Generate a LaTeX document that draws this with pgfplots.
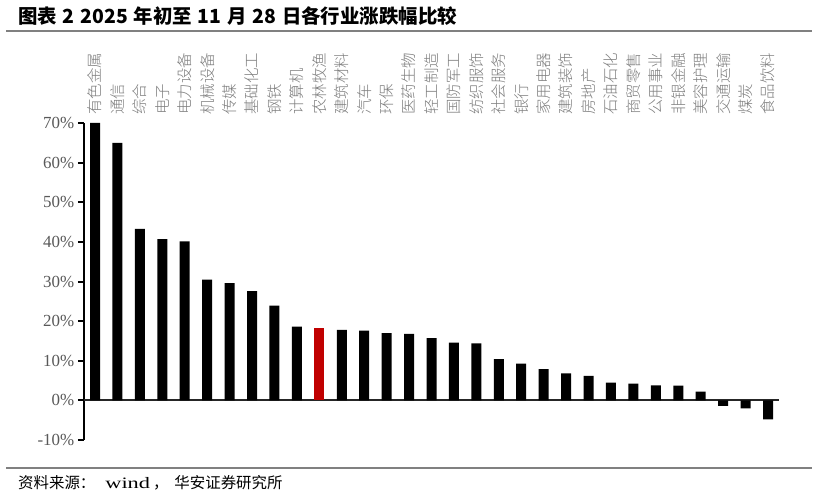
\documentclass[border=0pt]{standalone}
\usepackage{fontspec}
\usepackage{pgfplots}
\pgfplotsset{compat=1.18}
\setmainfont{Liberation Serif}
\newfontfamily\cjk{Noto Sans CJK SC}
\newfontfamily\cjklight{Noto Sans CJK SC Light}
\definecolor{tickgray}{RGB}{89,89,89}
\definecolor{labgray}{RGB}{125,125,125}
\definecolor{rulegray}{RGB}{128,128,128}
\definecolor{barred}{RGB}{192,0,0}
\begin{document}
\begin{tikzpicture}[x=1bp,y=1bp]
\useasboundingbox (0,0) rectangle (819,-499);
\fill[white] (0,0) rectangle (819,-499);
\node[anchor=west, inner sep=0] at (18,-16) {\cjk\bfseries\fontsize{19.5}{19.5}\selectfont 图表\hspace{0.3em}2\hspace{0.3em}2025\hspace{0.3em}年初至\hspace{0.3em}11\hspace{0.3em}月\hspace{0.3em}28\hspace{0.3em}日各行业涨跌幅比较};
\draw[rulegray, line width=2bp] (6,-31) -- (812,-31);
\draw[rulegray, line width=2bp] (6,-468) -- (812,-468);
\node[anchor=west, inner sep=0] at (18,-483) {\cjk\fontsize{15.5}{15.5}\selectfont 资料来源：\hspace{10bp}{\rmfamily\fontsize{16}{16}\selectfont\scalebox{1.4}[1]{wind}}\hspace{3bp}，\hspace{6bp}华安证券研究所};
\begin{axis}[at={(83.8bp,-440bp)}, anchor=south west, scale only axis,
  width=695.4bp, height=317bp,
  xmin=-0.5, xmax=30.5, ymin=-10, ymax=70,
  axis y line*=left, axis x line*=top,
  x axis line style={draw=none},
  y axis line style={line width=2bp, -},
  ytick={-10,0,10,20,30,40,50,60,70},
  /pgf/number format/assume math mode=true,
  yticklabel={\pgfmathprintnumber{\tick}\%},
  yticklabel style={font=\fontsize{17}{17}\selectfont, text=tickgray},
  tick align=outside, major tick length=6bp,
  ytick style={line width=2bp, black},
  xtick={0,...,30},
  xticklabels={有色金属,通信,综合,电子,电力设备,机械设备,传媒,基础化工,钢铁,计算机,农林牧渔,建筑材料,汽车,环保,医药生物,轻工制造,国防军工,纺织服饰,社会服务,银行,家用电器,建筑装饰,房地产,石油石化,商贸零售,公用事业,非银金融,美容护理,交通运输,煤炭,食品饮料},
  xticklabel style={rotate=90, anchor=west, font=\cjklight\fontsize{15.5}{15.5}\selectfont, text=labgray, inner sep=2bp},
  xtick style={draw=none},
  ybar, bar width=10bp, bar shift=0pt,
  clip=false,
]
\draw[black!85, line width=2bp] (axis cs:-0.5,0) -- (axis cs:30.5,0);
\addplot[fill=black, draw=none] coordinates {
(0,70) (1,65.0) (2,43.3) (3,40.7) (4,40.1) (5,30.5) (6,29.6) (7,27.6) (8,23.9) (9,18.6)
(11,17.8) (12,17.6) (13,17.0) (14,16.8) (15,15.7) (16,14.6) (17,14.4) (18,10.4) (19,9.3)
(20,7.9) (21,6.8) (22,6.2) (23,4.5) (24,4.2) (25,3.8) (26,3.7) (27,2.2) (28,-1.4) (29,-2.0) (30,-4.8)
};
\addplot[fill=barred, draw=none] coordinates {(10,18.3)};
\end{axis}
\end{tikzpicture}
\end{document}
